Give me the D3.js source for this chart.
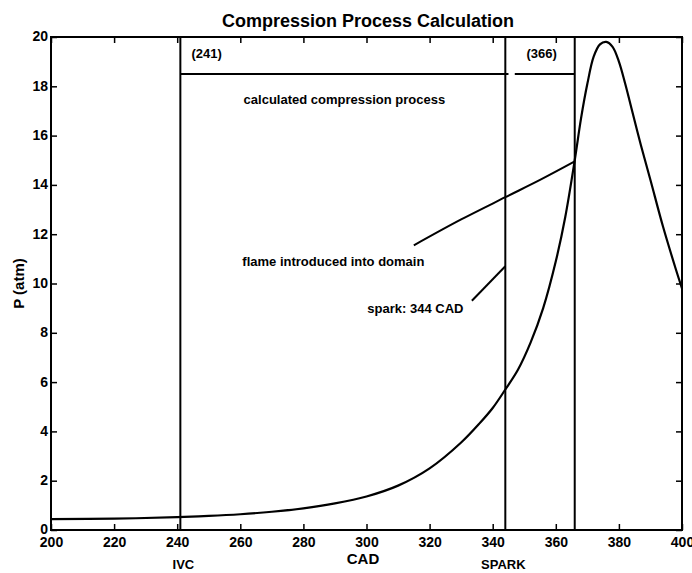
<!DOCTYPE html>
<html>
<head>
<meta charset="utf-8">
<script src="https://cdn.jsdelivr.net/npm/d3@7"></script>
<style>
  body { margin: 0; background: #fff; }
  svg { display: block; font-family: 'Liberation Sans', Arial, Helvetica, sans-serif; font-weight: bold; }
  .g-axis path { display: none; }
  .g-axis line { stroke: #000; stroke-width: 1.5; }
  .g-axis text { font-size: 14px; font-weight: bold; fill: #000; font-family: 'Liberation Sans', Arial, sans-serif; }
</style>
</head>
<body>
<main></main>
<script>
// pressure trace (CAD, atm)
const cad = [200, 220, 240, 250, 260, 270, 280, 290, 300, 310, 320, 330, 336, 340, 344, 348, 352, 356, 360, 363, 366, 368, 370, 372, 374, 376, 378, 380, 382, 384, 387, 390, 394, 398, 400];
const pressure = [0.44, 0.46, 0.52, 0.57, 0.64, 0.74, 0.88, 1.08, 1.36, 1.8, 2.5, 3.55, 4.35, 4.95, 5.7, 6.5, 7.6, 9.0, 10.9, 12.7, 15.0, 16.7, 18.1, 19.2, 19.7, 19.8, 19.6, 19.0, 18.1, 17.1, 15.6, 14.2, 12.3, 10.6, 9.8];

// flame line (starts at the label leader)
const flameCad = [315, 330, 344, 355, 366];
const flameP = [11.55, 12.6, 13.5, 14.2, 14.95];

// spark leader
const sparkCad = [333.4, 344];
const sparkP = [9.3, 10.7];

const markers = [241, 344, 366];
const markerNames = ['IVC', 'SPARK'];
const processLevel = 18.5;

const xTicks = d3.range(200, 401, 20);
const yTicks = d3.range(0, 21, 2);

const margin = { top: 37, right: 10, bottom: 43, left: 51 };
const width = 692 - margin.left - margin.right;
const height = 573 - margin.top - margin.bottom;

const $main = d3.select('main');
const $svg = $main.append('svg').attr('width', 692).attr('height', 573);
const $g = $svg.append('g').attr('transform', `translate(${margin.left}, ${margin.top})`);

const scaleX = d3.scaleLinear().domain([200, 400]).range([0, width]);
const scaleY = d3.scaleLinear().domain([0, 20]).range([height, 0]);

// axes, ticks inward on all four sides
$g.append('g').attr('class', 'g-axis')
  .attr('transform', `translate(0, ${height})`)
  .call(d3.axisBottom(scaleX).tickValues(xTicks).tickSizeInner(-6).tickPadding(7));
$g.append('g').attr('class', 'g-axis')
  .call(d3.axisTop(scaleX).tickValues(xTicks).tickSizeInner(-6).tickFormat(''));
$g.append('g').attr('class', 'g-axis')
  .call(d3.axisLeft(scaleY).tickValues(yTicks).tickSizeInner(-6).tickPadding(3))
  .selectAll('text').attr('dy', '0.28em');
$g.append('g').attr('class', 'g-axis')
  .attr('transform', `translate(${width}, 0)`)
  .call(d3.axisRight(scaleY).tickValues(yTicks).tickSizeInner(-6).tickFormat(''));

$g.append('rect')
  .attr('width', width).attr('height', height)
  .attr('fill', 'none').attr('stroke', '#000').attr('stroke-width', 2);

// marker verticals
$g.selectAll('.marker')
  .data(markers)
  .enter()
  .append('line')
  .attr('class', 'marker')
  .attr('x1', d => scaleX(d)).attr('x2', d => scaleX(d))
  .attr('y1', 0).attr('y2', height)
  .attr('stroke', '#000').attr('stroke-width', 2);

// compression process span (small break after spark line)
const spans = [[markers[0], markers[1] + 1], [markers[1] + 3, markers[2]]];
$g.selectAll('.span')
  .data(spans)
  .enter()
  .append('line')
  .attr('x1', d => scaleX(d[0])).attr('x2', d => scaleX(d[1]))
  .attr('y1', scaleY(processLevel)).attr('y2', scaleY(processLevel))
  .attr('stroke', '#000').attr('stroke-width', 2);

const line = d3.line()
  .x(d => scaleX(d[0]))
  .y(d => scaleY(d[1]))
  .curve(d3.curveCatmullRom.alpha(0.5));

$g.append('path')
  .datum(cad.map((c, i) => [c, pressure[i]]))
  .attr('d', line)
  .attr('fill', 'none').attr('stroke', '#000').attr('stroke-width', 2.2);

$g.append('path')
  .datum(flameCad.map((c, i) => [c, flameP[i]]))
  .attr('d', line)
  .attr('fill', 'none').attr('stroke', '#000').attr('stroke-width', 2);

$g.append('path')
  .datum(sparkCad.map((c, i) => [c, sparkP[i]]))
  .attr('d', d3.line().x(d => scaleX(d[0])).y(d => scaleY(d[1])))
  .attr('fill', 'none').attr('stroke', '#000').attr('stroke-width', 2);

// annotations
const note = (x, y, txt, anchor = 'start') =>
  $g.append('text')
    .attr('x', x).attr('y', y)
    .attr('text-anchor', anchor)
    .attr('font-size', 13)
    .text(txt);

note(scaleX(244.5), scaleY(19.15), `(${markers[0]})`);
note(scaleX(355.5), scaleY(19.15), `(${markers[2]})`, 'middle');
note(scaleX(293), scaleY(17.3), 'calculated compression process', 'middle');
note(scaleX(289.5), scaleY(10.7), 'flame introduced into domain', 'middle');
note(scaleX(315.5), scaleY(8.8), 'spark: 344 CAD', 'middle');

// titles
$svg.append('text')
  .attr('x', 368).attr('y', 27)
  .attr('text-anchor', 'middle').attr('font-size', 18)
  .text('Compression Process Calculation');

$svg.append('text')
  .attr('x', 363).attr('y', 564)
  .attr('text-anchor', 'middle').attr('font-size', 15)
  .text('CAD');

$svg.append('text')
  .attr('transform', `translate(24, ${margin.top + scaleY(10)}) rotate(-90)`)
  .attr('text-anchor', 'middle').attr('font-size', 15)
  .text('P (atm)');

$svg.selectAll('.g-name')
  .data(markerNames)
  .enter()
  .append('text')
  .attr('class', 'g-name')
  .attr('x', (d, i) => margin.left + scaleX(markers[i]) + (i ? -2 : 3))
  .attr('y', 569)
  .attr('text-anchor', 'middle').attr('font-size', 13)
  .text(d => d);
</script>
</body>
</html>
